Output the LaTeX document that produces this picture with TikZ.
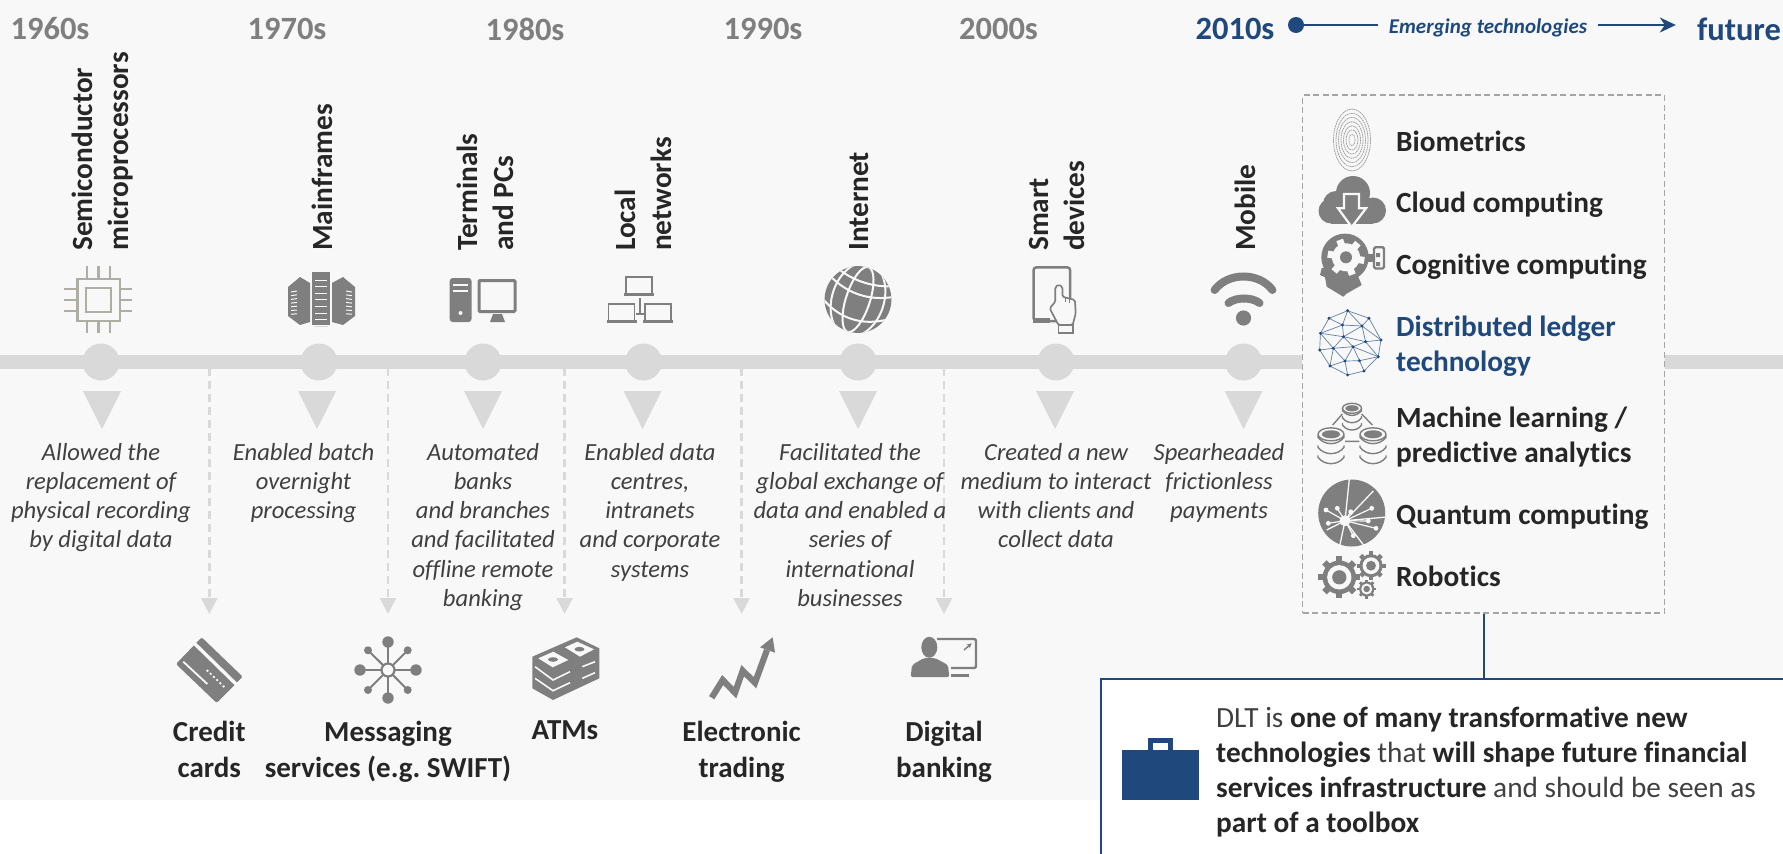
\documentclass[tikz,border=0pt]{standalone}
\usepackage{fontspec}
\setmainfont[Ligatures=NoCommon]{Carlito}
\usetikzlibrary{arrows.meta,positioning}
\definecolor{pagegray}{HTML}{F8F8F8}
\definecolor{railgray}{HTML}{D9D9D9}
\definecolor{icongray}{HTML}{7F7F7F}
\definecolor{chipgray}{HTML}{AFAEA5}
\definecolor{dltblue}{HTML}{1F497D}
\definecolor{textdark}{HTML}{262626}
\definecolor{capdark}{HTML}{404040}
\tikzset{
  decade/.style={font=\fontsize{32.5}{38}\selectfont\bfseries,text=icongray,inner sep=0pt},
  techlabel/.style={font=\fontsize{29.3}{36}\selectfont\bfseries,text=textdark,inner sep=0pt,align=left,rotate=90,anchor=west},
  caption/.style={font=\fontsize{24.6}{29.2}\selectfont\itshape,text=capdark,inner sep=0pt,align=center,anchor=north},
  footlabel/.style={font=\fontsize{29}{36.4}\selectfont\bfseries,text=textdark,inner sep=0pt,align=center,anchor=north},
  listlabel/.style={font=\fontsize{29.3}{35.5}\selectfont\bfseries,text=textdark,inner sep=0pt,align=left,anchor=west},
  raildot/.style={circle,fill=railgray,minimum size=37pt,inner sep=0pt},
  dropline/.style={railgray,line width=2.7pt,dash pattern=on 8pt off 5pt,-{Triangle[width=16pt,length=16pt]}},
  icon/.style={fill=icongray,draw=none},
  iconline/.style={draw=icongray,line width=2.5pt,fill=none},
  gap/.style={draw=pagegray,line width=2pt},
  gapfill/.style={fill=pagegray,draw=none}
}
\newcommand{\gearicon}[2]{
  \begin{scope}[shift={#1}]
    \foreach \a in {0,45,...,315} \draw[icongray,line width=#2*0.3] (\a:#2*0.7) -- (\a:#2);
    \fill[icon] (0,0) circle (#2*0.8);
    \fill[gapfill] (0,0) circle (#2*0.58);
    \fill[icon] (0,0) circle (#2*0.34);
  \end{scope}
}
\newcommand{\dbstack}[3]{
  \begin{scope}[shift={#1}]
    \draw[icongray,line width=1.4pt] (0,0) ellipse [x radius=#2,y radius=#3];
    \fill[icon] (0,0) ellipse [x radius=#2*0.7,y radius=#3*0.62];
    \foreach \d in {0.23,1,1.77}
      \draw[icongray,line width=1.4pt] (-#2,\d*#2-2) -- (-#2,\d*#2) .. controls (-#2*0.5,\d*#2+#3*1.3) and (#2*0.5,\d*#2+#3*1.3) .. (#2,\d*#2) -- (#2,\d*#2-2);
  \end{scope}
}
\begin{document}
\begin{tikzpicture}[x=1pt,y=-1pt]
\pgfmathsetmacro{\raily}{362}
\pgfmathsetmacro{\labely}{251}
\pgfmathsetmacro{\capy}{443}
\clip (0,0) rectangle (1783,854);
\fill[white] (0,0) rectangle (1783,854);
\fill[pagegray] (0,0) rectangle (1783,800);

\coordinate (railstart) at (0,\raily);
\coordinate (railend) at (1783,\raily);
\node[draw=icongray!70,dash pattern=on 6pt off 3.5pt,line width=1.2pt,fill=pagegray,minimum width=362pt,minimum height=518pt,inner sep=0pt] (techbox) at (1483.6,354) {};
\draw[railgray,line width=14pt] (railstart) -- (techbox.west |- railstart);
\draw[railgray,line width=14pt] (techbox.east |- railend) -- (railend);
\node[draw=dltblue,line width=2pt,fill=white,minimum width=720pt,minimum height=220pt,inner sep=0pt,anchor=north west] (notebox) at (1100,678) {};
\draw[dltblue,line width=2pt] (techbox.south) -- (techbox.south |- notebox.north);

\node[decade] (d1960) at (50,29) {1960s};
\node[decade] (d1970) at (287,29) {1970s};
\node[decade] (d1980) at (525,29) {1980s};
\node[decade] (d1990) at (763,29) {1990s};
\node[decade] (d2000) at (998.5,29) {2000s};
\node[decade,text=dltblue] (d2010) at (1235,29) {2010s};
\node[decade,text=dltblue] (future) at (1739,29) {future};
\node[circle,fill=dltblue,minimum size=16pt,inner sep=0pt] (nowdot) at (1296,25) {};
\node[font=\fontsize{21}{25}\selectfont\bfseries\itshape,text=dltblue,inner sep=11pt] (emerging) at (1488,28) {Emerging technologies};
\draw[dltblue,line width=1.8pt] (nowdot) -- (emerging.west |- nowdot);
\draw[dltblue,line width=1.8pt,-{Stealth[length=16pt,width=15pt,inset=5pt]},shorten >=21pt] (emerging.east |- nowdot) -- (future.west |- nowdot);

\node[raildot] (dchip) at (101,\raily) {};
\node[raildot] (dmain) at (319,\raily) {};
\node[raildot] (dterm) at (483,\raily) {};
\node[raildot] (dlan) at (643.5,\raily) {};
\node[raildot] (dweb) at (858,\raily) {};
\node[raildot] (dsmart) at (1056,\raily) {};
\node[raildot] (dmob) at (1243.5,\raily) {};
\foreach \xpos in {102,317,483,642.5,858,1055,1243.5}
  \fill[railgray] (\xpos-19,391) -- (\xpos+19,391) -- (\xpos,429) -- cycle;

\foreach \tname/\xpos in {card/209.3,msg/388,atm/564.6,trade/741.6,bank/944} {
  \coordinate (\tname top) at (\xpos,368);
  \coordinate (\tname tip) at (\xpos,614);
  \draw[dropline] (\tname top) -- (\tname tip);
}

\node[techlabel] (tchip) at (103,\labely) {Semiconductor\\microprocessors};
\node[techlabel] (tmain) at (322,\labely) {Mainframes};
\node[techlabel] (tterm) at (485,\labely) {Terminals\\and PCs};
\node[techlabel] (tlan) at (643,\labely) {Local\\networks};
\node[techlabel] (tweb) at (859.5,\labely) {Internet};
\node[techlabel] (tsmart) at (1057,\labely) {Smart\\devices};
\node[techlabel] (tmob) at (1245,\labely) {Mobile};

\node[caption] (cchip) at (101,\capy) {Allowed the\\replacement of\\physical recording\\by digital data};
\node[caption] (cmain) at (303.6,\capy) {Enabled batch\\overnight\\processing};
\node[caption] (cterm) at (483,\capy) {Automated\\banks\\and branches\\and facilitated\\offline remote\\banking};
\node[caption] (clan) at (650,\capy) {Enabled data\\centres,\\intranets\\and corporate\\systems};
\node[caption] (cweb) at (850,\capy) {Facilitated the\\global exchange of\\data and enabled a\\series of\\international\\businesses};
\node[caption] (csmart) at (1056,\capy) {Created a new\\medium to interact\\with clients and\\collect data};
\node[caption] (cmob) at (1219,\capy) {Spearheaded\\frictionless\\payments};

\node[footlabel] (fcard) at (209.3,720.5) {Credit\\cards};
\node[footlabel] (fmsg) at (388,720.5) {Messaging\\services (e.g.\ SWIFT)};
\node[footlabel] (fatm) at (565,720.5) {ATMs};
\node[footlabel] (ftrade) at (741.6,720.5) {Electronic\\trading};
\node[footlabel] (fbank) at (944,720.5) {Digital\\banking};

\node[listlabel] (lbio) at (1396,141) {Biometrics};
\node[listlabel] (lcloud) at (1396,205) {Cloud computing};
\node[listlabel] (lcog) at (1396,267) {Cognitive computing};
\node[listlabel,text=dltblue] (ldlt) at (1396,346) {Distributed ledger\\technology};
\node[listlabel] (lml) at (1396,437) {Machine learning /\\predictive analytics};
\node[listlabel] (lqc) at (1396,517) {Quantum computing};
\node[listlabel] (lrob) at (1396,576) {Robotics};

\node[font=\fontsize{29.3}{35}\selectfont,text=capdark,inner sep=0pt,align=left,anchor=north west] (notetext) at (1216,706.5) {DLT is \textcolor{textdark}{\bfseries one of many transformative new}\\\textcolor{textdark}{\bfseries technologies} that \textcolor{textdark}{\bfseries will shape future financial}\\\textcolor{textdark}{\bfseries services infrastructure} and should be seen as\\\textcolor{textdark}{\bfseries part of a toolbox}};

\fill[dltblue] (1122,750) rectangle (1199,800);
\draw[dltblue,line width=5pt] (1150.8,750) -- (1150.8,740.8) -- (1170.2,740.8) -- (1170.2,750);

\draw[chipgray,line width=2.6pt] (77.7,279) rectangle (119.8,321) (86,288) rectangle (111,312);
\foreach \p in {87,98.4,110} \draw[chipgray,line width=2.6pt] (\p,266) -- (\p,279) (\p,321) -- (\p,333);
\foreach \p in {289,300,311} \draw[chipgray,line width=2.6pt] (64,\p) -- (77.7,\p) (119.8,\p) -- (132,\p);

\fill[icon] (312,272) rectangle (330,325);
\fill[icon] (288,287) -- (300,277) -- (310,283) -- (310,322) -- (300,325) -- (288,316) -- cycle;
\fill[icon] (355,287) -- (343,277) -- (332,283) -- (332,322) -- (343,325) -- (355,316) -- cycle;
\draw[railgray,line width=1.5pt] (314,326.5) -- (328,326.5);
\foreach \p in {0,1,...,6} {
  \draw[gap,line width=1pt] (315,280+\p*6.6) -- (327,280+\p*6.6);
  \draw[gap,line width=1pt] (291,292+\p*3.7) -- (297,291+\p*3.8);
  \draw[gap,line width=1pt] (352,292+\p*3.7) -- (346,291+\p*3.8);
}

\fill[icon,rounded corners=3pt] (449.7,278) rectangle (471.5,322);
\draw[gap,line width=1.6pt] (453,285) -- (468,285) (453,291) -- (468,291);
\fill[gapfill] (460.5,313) circle (2);
\draw[icongray,line width=3pt,rounded corners=1pt] (479,280.5) rectangle (515,311.5);
\fill[icon] (493,314) -- (502,314) -- (505,322) -- (490,322) -- cycle;

\foreach \lx/\ly in {639/277,621.5/304,658/304} {
  \draw[icongray,line width=1.4pt] (\lx-13,\ly+16) -- (\lx-13,\ly) -- (\lx+13,\ly) -- (\lx+13,\ly+16);
  \fill[icon] (\lx-15,\ly+16) rectangle (\lx+15,\ly+18.5);
}
\draw[icongray,line width=1.4pt] (640,298) -- (640,314) (636,314) -- (644,314);

\begin{scope}[shift={(858,299.5)},rotate=-18]
  \fill[icon] (0,0) circle (33.4);
  \clip (0,0) circle (33.4);
  \draw[gap] (0,0) ellipse [x radius=12,y radius=34];
  \draw[gap] (0,0) ellipse [x radius=26,y radius=38];
  \draw[gap] (-34,-14) .. controls (-12,-2) and (12,-2) .. (34,-14);
  \draw[gap] (-34,10) .. controls (-12,24) and (12,24) .. (34,10);
  \draw[gap] (-30,-24) .. controls (-12,-16) and (12,-16) .. (30,-24);
\end{scope}

\draw[iconline,rounded corners=3pt] (1033.5,321) -- (1033.5,267.3) -- (1070.2,267.3) -- (1070.2,321) -- cycle;
\fill[icon] (1033,318) rectangle (1050,322.8);
\draw[draw=icongray,line width=1.7pt,fill=pagegray,rounded corners=1.5pt] (1058.4,325) -- (1049.7,308.3) -- (1055.3,301.7) -- (1055.3,287) -- (1058.8,284.5) -- (1062.4,287) -- (1062.4,296.7) -- (1074.9,300) -- (1075.7,313.3) -- (1072.7,325) -- cycle;
\draw[icongray,line width=1.7pt] (1058.4,325) rectangle (1072.7,332.7);
\draw[icongray,line width=0.9pt] (1065.6,297) -- (1065.6,302) (1069.6,298) -- (1069.6,303);

\draw[icongray,line width=8pt,line cap=round] (1214.6,290) .. controls (1228,272) and (1259,272) .. (1272.4,290);
\draw[icongray,line width=8pt,line cap=round] (1228.5,303) .. controls (1236,297) and (1252,297) .. (1259.5,303);
\fill[icon] (1243.5,318) circle (7.6);

\draw[draw=icongray!75,line width=0.7pt,dash pattern=on 1.6pt off 0.7pt] (1352,140) ellipse [x radius=3,y radius=6];
\foreach \r in {6,8.5,...,19}
  \draw[draw=icongray!75,line width=0.8pt,dash pattern=on 1.6pt off 0.7pt] (1352,140) ellipse [x radius=\r,y radius=\r*1.67];

\fill[icon] (1353,193) circle (17) (1336,204) circle (13) (1331,211) circle (12.5) (1373,210.5) circle (13);
\fill[icon] (1331,205) rectangle (1373,223.5);
\draw[gap,line width=2.2pt,fill=icongray] (1344,194) -- (1359,194) -- (1359,208.3) -- (1366,208.3) -- (1351.7,227) -- (1338,208.3) -- (1344,208.3) -- cycle;

\fill[icon] (1345,257.3) circle (23.7);
\fill[icon] (1321.7,268) -- (1320,275) -- (1325,277.3) -- (1326.7,286.7) -- (1343.3,296.7) -- (1346,294) -- (1361.7,285) -- (1356.7,273.3) -- (1366.7,266.7) -- cycle;
\fill[icon] (1366,254) rectangle (1374,262);
\draw[iconline,line width=2.4pt,rounded corners=1.5pt] (1374,247.2) rectangle (1384,268.5);
\fill[icon] (1376.2,253) rectangle (1380.2,257) (1376.2,262) rectangle (1380.2,266);
\foreach \a in {0,60,...,300} \draw[pagegray,line width=7pt] (1346,257.3) ++(\a+10:12) -- ++(\a+10:6.5);
\fill[gapfill] (1346,257.3) circle (14);
\fill[icon] (1346,257.3) circle (6);

\foreach \n/\px/\py in {1/1347.6/310.7,2/1329/318.3,3/1369/318.3,4/1342.5/325,5/1362/326,6/1320.4/333.3,7/1343.5/336.7,8/1381/340,9/1365.6/341.7,10/1333.3/348.3,11/1319.7/350,12/1353/346.7,13/1378.2/356.7,14/1345/361,15/1359.5/360.7,16/1330/366,17/1364/371,18/1347.6/375}
  \coordinate (n\n) at (\px,\py);
\foreach \a/\b in {1/2,1/3,1/4,1/5,2/4,2/6,3/5,3/8,4/5,4/6,4/7,5/7,5/9,5/8,6/7,6/10,6/11,7/9,7/10,7/12,8/9,8/13,9/12,9/13,10/11,10/12,10/14,10/16,11/16,12/14,12/15,12/13,13/15,13/17,14/15,14/16,14/18,15/17,16/18,17/18}
  \draw[dltblue!70,line width=0.7pt] (n\a) -- (n\b);
\foreach \n in {1,2,...,18} \fill[dltblue] (n\n) circle (1.6);

\dbstack{(1352,408.3)}{9.5}{5}
\dbstack{(1331,434.3)}{13}{6.5}
\dbstack{(1373,434.3)}{13}{6.5}
\draw[icongray,line width=1.4pt] (1332.7,425) -- (1342.3,414) (1372.3,425) -- (1361.7,414) (1345,441.3) -- (1359.3,441.3);

\fill[icon] (1351.7,513) circle (33.5);
\foreach \ex/\ey in {1349.3/479,1373.3/491,1387/517,1365/547,1339.3/548,1326.7/530} \draw[gap,line width=1.3pt] (1345,520.7) -- (\ex,\ey);
\foreach \ex/\ey in {1326/510,1337.3/508.3,1350.7/511.7,1371.7/508.3,1368.3/521,1376/528.3,1353.3/535.7,1328.3/523.3} {
  \draw[gap,line width=1.2pt] (1345,520.7) -- (\ex,\ey);
  \fill[gapfill] (\ex,\ey) circle (2.4);
}
\fill[gapfill] (1345,520.7) circle (5.5);

\gearicon{(1339.3,577.3)}{21}
\gearicon{(1371,565.7)}{14.5}
\gearicon{(1366.7,589)}{9.5}

\fill[icon,rounded corners=2pt] (201.7,637.3) -- (242.7,676.7) -- (216.7,703) -- (176,664) -- cycle;
\draw[gap,line width=3.4pt] (194,643) -- (238,686);
\draw[gap,line width=1.8pt] (183.3,661.7) -- (207.3,684);
\draw[gap,line width=1.8pt,dash pattern=on 2pt off 2.5pt] (206.7,670) -- (225.3,688);

\foreach \hx/\hy in {388/642,416/670,388/698,360/670} {
  \draw[icongray,line width=2.5pt] (388,670) -- (\hx,\hy);
  \fill[icon] (\hx,\hy) circle (5.7);
}
\foreach \hx/\hy in {368/650.3,407.7/650.3,368/690,407.7/690} {
  \draw[icongray,line width=2pt] (388,670) -- (\hx,\hy);
  \fill[icon] (\hx,\hy) circle (4);
}
\draw[draw=icongray,line width=2.2pt,fill=pagegray] (388,670) circle (6.5);

\fill[icon] (532.3,656.7) -- (576.7,637.3) -- (599.3,648.3) -- (599.3,678.3) -- (553,700) -- (532.3,688.3) -- cycle;
\fill[gapfill] (538.3,658.3) -- (553.3,651.7) -- (568.3,660) -- (552.7,667.3) -- cycle;
\fill[gapfill] (565,647.3) -- (577.3,641.7) -- (594,649.3) -- (580,656.7) -- cycle;
\fill[icon] (553,659.5) ellipse [x radius=5,y radius=2.3];
\fill[icon] (579.5,649.2) ellipse [x radius=5,y radius=2.3];
\draw[gap,line width=1.6pt] (535,666.7) -- (553,680) -- (570,671.7) (535,678.3) -- (553,690.7) -- (570,682.7) (582.3,666.7) -- (595,661.7) (582.3,678.3) -- (595,672.7);

\draw[icongray,line width=6.2pt,miter limit=4] (711.7,697.7) -- (722.7,680) -- (735,692.7) -- (742.7,670.7) -- (755,682.7) -- (767,650);
\fill[icon] (772.7,637.3) -- (760,647.3) -- (775,652.7) -- cycle;

\fill[icon] (929.3,647.3) ellipse [x radius=8,y radius=10.5];
\fill[icon,rounded corners=2pt] (910.7,677) -- (912,665) -- (924,658) -- (935,658) -- (948,665) -- (949.3,677) -- cycle;
\draw[icongray,line width=2.4pt,rounded corners=2pt] (937,639) -- (976,639) -- (976,668) -- (951,668);
\fill[icon] (951,673.5) rectangle (969,677);
\draw[icongray,line width=1.5pt,-{Stealth[length=5pt,width=5pt]}] (964,650) -- (971.7,643.3);
\end{tikzpicture}
\end{document}
